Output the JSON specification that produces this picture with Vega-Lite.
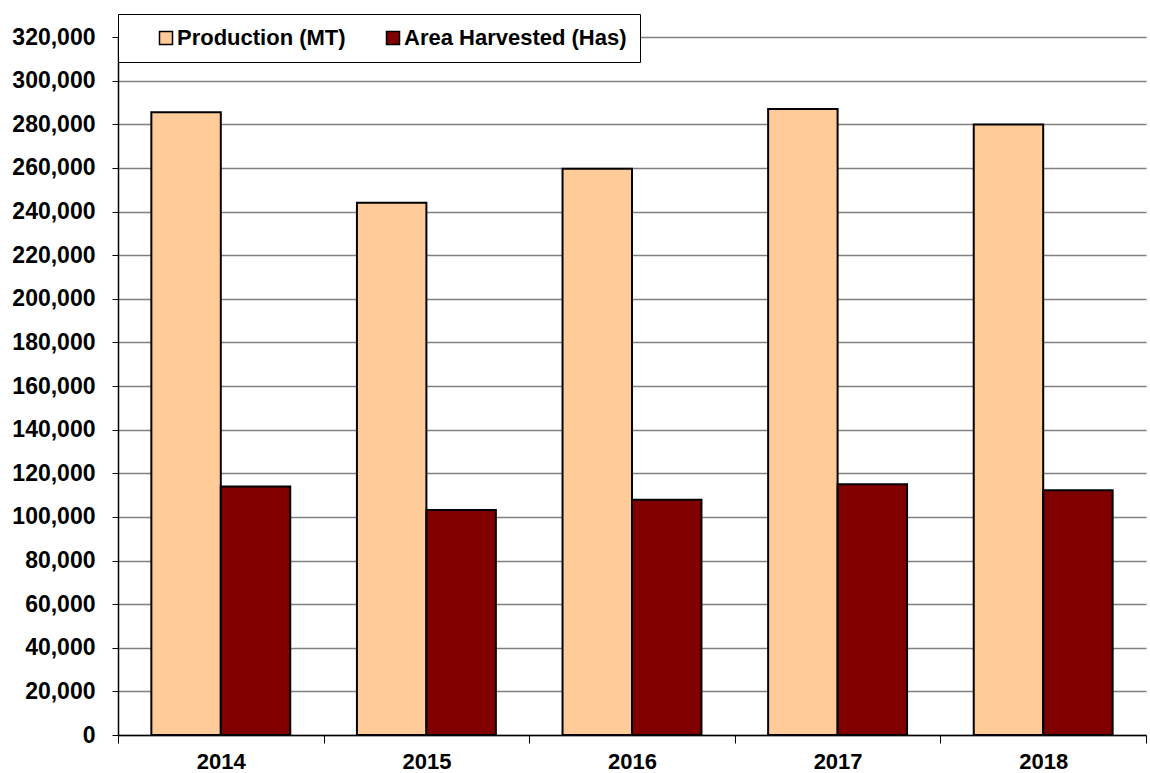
{
  "$schema": "https://vega.github.io/schema/vega-lite/v6.json",
  "width": 1028,
  "height": 698,
  "autosize": {"type": "none"},
  "padding": {"left": 118, "top": 37, "right": 4, "bottom": 38},
  "background": "white",
  "config": {
    "view": {"stroke": null},
    "font": "Liberation Sans"
  },
  "data": {
    "values": [
      {"year": "2014", "series": "Production (MT)", "value": 285500},
      {"year": "2014", "series": "Area Harvested (Has)", "value": 113900},
      {"year": "2015", "series": "Production (MT)", "value": 244000},
      {"year": "2015", "series": "Area Harvested (Has)", "value": 103200},
      {"year": "2016", "series": "Production (MT)", "value": 259600},
      {"year": "2016", "series": "Area Harvested (Has)", "value": 107800},
      {"year": "2017", "series": "Production (MT)", "value": 287000},
      {"year": "2017", "series": "Area Harvested (Has)", "value": 114900},
      {"year": "2018", "series": "Production (MT)", "value": 279900},
      {"year": "2018", "series": "Area Harvested (Has)", "value": 112200}
    ]
  },
  "mark": {"type": "bar", "stroke": "black", "strokeWidth": 2},
  "encoding": {
    "x": {
      "field": "year",
      "type": "nominal",
      "title": null,
      "scale": {"paddingInner": 0, "paddingOuter": 0},
      "axis": {
        "labelAngle": 0,
        "labelFont": "Liberation Sans",
        "labelFontSize": 22,
        "labelFontWeight": "bold",
        "labelColor": "black",
        "labelPadding": 8,
        "tickBand": "extent",
        "tickColor": "black",
        "tickSize": 8,
        "tickWidth": 1,
        "domainColor": "black",
        "domainWidth": 1.5,
        "grid": false
      }
    },
    "xOffset": {
      "field": "series",
      "type": "nominal",
      "sort": ["Production (MT)", "Area Harvested (Has)"],
      "scale": {"paddingInner": 0, "paddingOuter": 0.48}
    },
    "y": {
      "field": "value",
      "type": "quantitative",
      "title": null,
      "scale": {"domain": [0, 320000], "nice": false},
      "axis": {
        "values": [0, 20000, 40000, 60000, 80000, 100000, 120000, 140000, 160000, 180000, 200000, 220000, 240000, 260000, 280000, 300000, 320000],
        "format": ",d",
        "labelFont": "Liberation Sans",
        "labelFontSize": 23,
        "labelFontWeight": "bold",
        "labelColor": "black",
        "labelPadding": 17,
        "tickColor": "black",
        "tickSize": 6,
        "tickWidth": 1,
        "domainColor": "black",
        "domainWidth": 1.5,
        "grid": true,
        "gridColor": "#808080",
        "gridWidth": 1.5
      }
    },
    "color": {
      "field": "series",
      "type": "nominal",
      "sort": ["Production (MT)", "Area Harvested (Has)"],
      "scale": {"domain": ["Production (MT)", "Area Harvested (Has)"], "range": ["#FFCC99", "#800000"]},
      "legend": {
        "title": null,
        "orient": "none",
        "legendX": 0,
        "legendY": -23,
        "direction": "horizontal",
        "fillColor": "white",
        "strokeColor": "black",
        "padding": 13,
        "symbolType": "square",
        "symbolSize": 169,
        "symbolStrokeColor": "black",
        "symbolStrokeWidth": 1.5,
        "symbolOffset": 24,
        "labelFont": "Liberation Sans",
        "labelFontSize": 22,
        "labelFontWeight": "bold",
        "labelColor": "black",
        "labelOffset": 0,
        "labelLimit": 400,
        "columnPadding": 12
      }
    }
  }
}
